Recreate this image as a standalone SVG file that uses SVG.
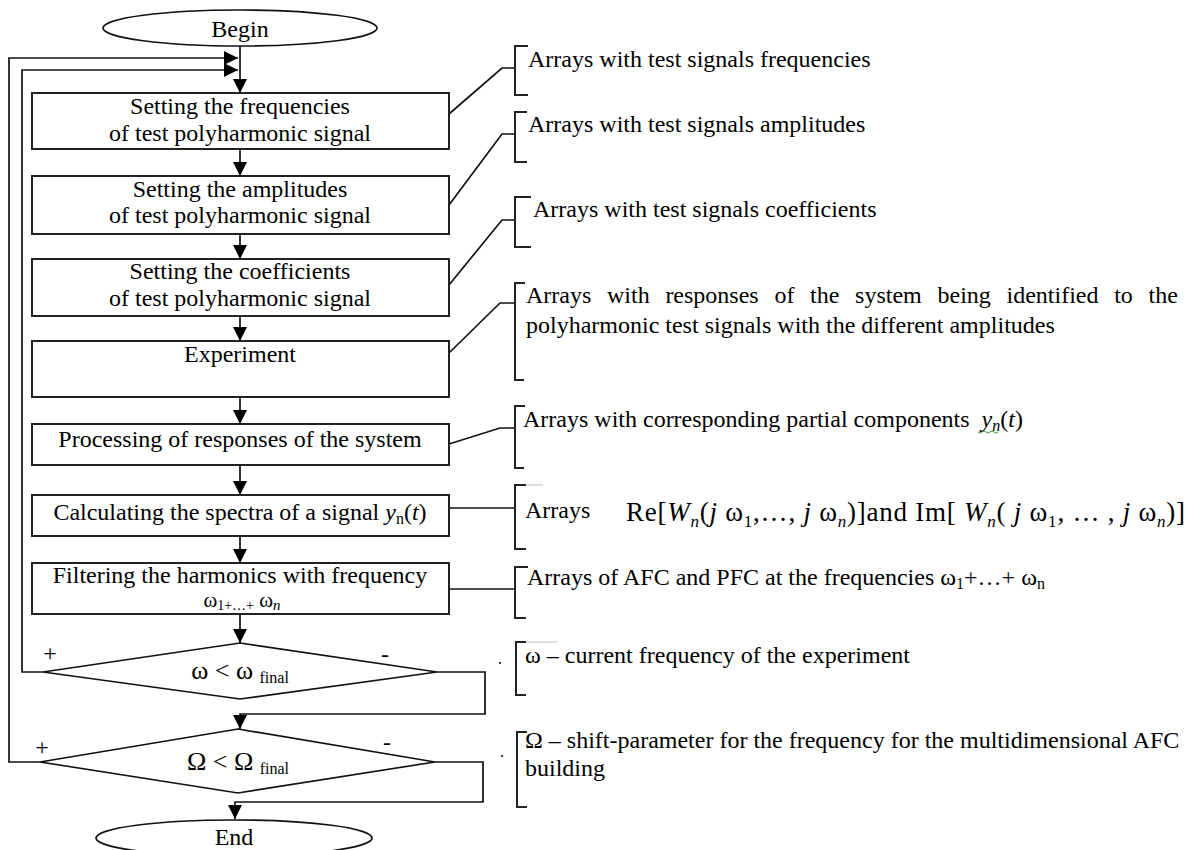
<svg xmlns="http://www.w3.org/2000/svg" width="1196" height="850" viewBox="0 0 1196 850">
<style>
.t{font-family:"Liberation Serif","Times New Roman","DejaVu Serif",serif;font-size:24px;fill:#000}
.c{text-anchor:middle}
.i{font-style:italic}
.box{fill:#fff;stroke:#222;stroke-width:2}
.ln{fill:none;stroke:#111;stroke-width:1.7}
.br{fill:none;stroke:#222;stroke-width:2}
</style>
<defs>
<marker id="ah" viewBox="0 0 10 10" refX="10" refY="5" markerWidth="15" markerHeight="14" markerUnits="userSpaceOnUse" orient="auto">
<path d="M0,0 L10,5 L0,10 z" fill="#000"/>
</marker>
</defs>
<rect width="1196" height="850" fill="#fff"/>

<g id="connectors">
<line class="ln" x1="240" y1="46" x2="240" y2="93" marker-end="url(#ah)"/>
<polyline class="ln" points="40,762 9,762 9,58 238,58" marker-end="url(#ah)"/>
<polyline class="ln" points="43,672 22,672 22,70 238,70" marker-end="url(#ah)"/>
<line class="ln" x1="240" y1="149" x2="240" y2="176" marker-end="url(#ah)"/>
<line class="ln" x1="240" y1="234" x2="240" y2="259" marker-end="url(#ah)"/>
<line class="ln" x1="240" y1="316" x2="240" y2="341" marker-end="url(#ah)"/>
<line class="ln" x1="240" y1="397" x2="240" y2="424" marker-end="url(#ah)"/>
<line class="ln" x1="240" y1="465" x2="240" y2="495" marker-end="url(#ah)"/>
<line class="ln" x1="240" y1="536" x2="240" y2="563" marker-end="url(#ah)"/>
<line class="ln" x1="240" y1="614" x2="240" y2="643" marker-end="url(#ah)"/>
<polyline class="ln" points="437,672 485,672 485,714 240,714 240,729" marker-end="url(#ah)"/>
<polyline class="ln" points="435,762 483,762 483,802 235,802 235,819" marker-end="url(#ah)"/>
<polyline class="ln" points="449,114 502,68 515,68"/>
<polyline class="ln" points="449,205 502,134 515,134"/>
<polyline class="ln" points="449,285 502,220 515,220"/>
<polyline class="ln" points="449,353 500,303 515,303"/>
<polyline class="ln" points="449,444 500,428 515,428"/>
<line class="ln" x1="449" y1="508" x2="515" y2="508"/>
<line class="ln" x1="449" y1="589" x2="515" y2="589"/>
</g>

<g id="begin">
<ellipse cx="240" cy="28" rx="137" ry="18" fill="#fff" stroke="#111" stroke-width="1.7"/>
<text class="t c" x="240" y="37">Begin</text>
</g>

<g id="box-frequencies">
<rect class="box" x="32" y="93" width="417" height="56"/>
<text class="t c" x="240" y="114">Setting the frequencies</text>
<text class="t c" x="240" y="141">of test polyharmonic signal</text>
</g>
<g id="box-amplitudes">
<rect class="box" x="32" y="176" width="417" height="58"/>
<text class="t c" x="240" y="197">Setting the amplitudes</text>
<text class="t c" x="240" y="223">of test polyharmonic signal</text>
</g>
<g id="box-coefficients">
<rect class="box" x="32" y="259" width="417" height="57"/>
<text class="t c" x="240" y="279">Setting the coefficients</text>
<text class="t c" x="240" y="306">of test polyharmonic signal</text>
</g>
<g id="box-experiment">
<rect class="box" x="32" y="341" width="417" height="56"/>
<text class="t c" x="240" y="362">Experiment</text>
</g>
<g id="box-processing">
<rect class="box" x="32" y="424" width="417" height="41"/>
<text class="t c" x="240" y="447">Processing of responses of the system</text>
</g>
<g id="box-calculating">
<rect class="box" x="32" y="495" width="417" height="41"/>
<text class="t c" x="240" y="520">Calculating the spectra of a signal <tspan class="i">y</tspan><tspan font-size="16" dy="4">n</tspan><tspan dy="-4">(</tspan><tspan class="i">t</tspan>)</text>
</g>
<g id="box-filtering">
<rect class="box" x="32" y="563" width="417" height="51"/>
<text class="t c" x="240" y="583">Filtering the harmonics with frequency</text>
<text class="t c" x="242" y="607" style="font-size:21px">ω<tspan font-size="14" dy="3">1+…+</tspan><tspan dy="-3"> ω</tspan><tspan class="i" font-size="15" dy="3">n</tspan></text>
</g>

<g id="decision-omega">
<polygon points="240,643 437,672 240,699 43,672" fill="#fff" stroke="#111" stroke-width="1.7"/>
<text class="t c" x="240" y="679" style="font-size:26px">ω &lt; ω <tspan font-size="16" dy="4">final</tspan></text>
<text class="t" x="50" y="661" style="font-size:24px" fill="#6b1a1a" text-anchor="middle">+</text>
<text class="t" x="385" y="662" style="font-size:24px" text-anchor="middle">-</text>
</g>
<g id="decision-Omega">
<polygon points="238,729 435,762 238,793 40,762" fill="#fff" stroke="#111" stroke-width="1.7"/>
<text class="t c" x="238" y="770" style="font-size:26px">Ω &lt; Ω <tspan font-size="16" dy="4">final</tspan></text>
<text class="t" x="42" y="755" style="font-size:24px" text-anchor="middle">+</text>
<text class="t" x="387" y="750" style="font-size:24px" text-anchor="middle">-</text>
</g>

<g id="end">
<ellipse cx="234" cy="838" rx="138" ry="18" fill="#fff" stroke="#111" stroke-width="1.7"/>
<text class="t c" x="234" y="845">End</text>
</g>

<g id="note-1">
<path class="br" d="M528,46 H515 V95 H528"/>
<text class="t" x="528" y="67">Arrays with test signals frequencies</text>
</g>
<g id="note-2">
<path class="br" d="M527,112 H515 V162 H527"/>
<text class="t" x="528" y="132">Arrays with test signals amplitudes</text>
</g>
<g id="note-3">
<path class="br" d="M531,197 H515 V247 H531"/>
<text class="t" x="533" y="217">Arrays with test signals coefficients</text>
</g>
<g id="note-4">
<path class="br" d="M525,283 H515 V380 H524"/>
<text class="t" x="526" y="303" word-spacing="9.7">Arrays with responses of the system being identified to the</text>
<text class="t" x="526" y="333">polyharmonic test signals with the different amplitudes</text>
</g>
<g id="note-5">
<path class="br" d="M525,406 H515 V468 H524"/>
<text class="t" x="523" y="427">Arrays with corresponding partial components<tspan class="i" dx="12">y</tspan><tspan class="i" font-size="16" dy="4">n</tspan><tspan dy="-4">(</tspan><tspan class="i">t</tspan>)</text>
<path d="M978,432 q2,2 4,0 t4,0 t4,0 t4,0 t4,0" fill="none" stroke="#3a9a3a" stroke-width="1"/>
</g>
<g id="note-6">
<path class="br" d="M526,485 H515 V549 H526"/>
<line x1="526" y1="485" x2="543" y2="485" stroke="#bbb" stroke-width="1"/>
<text class="t" x="525" y="518">Arrays</text>
<text class="t" x="626" y="521" style="font-size:27px" textLength="559" lengthAdjust="spacing">Re[<tspan class="i">W</tspan><tspan class="i" font-size="17" dy="6">n</tspan><tspan dy="-6">(</tspan><tspan class="i">j</tspan> ω<tspan font-size="17" dy="6">1</tspan><tspan dy="-6">,…, </tspan><tspan class="i">j</tspan> ω<tspan class="i" font-size="17" dy="6">n</tspan><tspan dy="-6">)]and  Im[ </tspan><tspan class="i">W</tspan><tspan class="i" font-size="17" dy="6">n</tspan><tspan dy="-6">( </tspan><tspan class="i">j</tspan> ω<tspan font-size="17" dy="6">1</tspan><tspan dy="-6">, … , </tspan><tspan class="i">j</tspan> ω<tspan class="i" font-size="17" dy="6">n</tspan><tspan dy="-6">)]</tspan></text>
</g>
<g id="note-7">
<path class="br" d="M528,567 H515 V618 H526"/>
<text class="t" x="527" y="585">Arrays of AFC and PFC at the frequencies ω<tspan font-size="16" dy="4">1</tspan><tspan dy="-4">+…+ ω</tspan><tspan font-size="16" dy="4">n</tspan></text>
</g>
<g id="note-8">
<circle cx="500" cy="663" r="1" fill="#000"/>
<path class="br" d="M526,642 H516 V695 H526"/>
<line x1="526" y1="642" x2="557" y2="642" stroke="#bbb" stroke-width="1"/>
<text class="t" x="525" y="663">ω – current frequency of the experiment</text>
</g>
<g id="note-9">
<circle cx="502" cy="756" r="1" fill="#000"/>
<path class="br" d="M527,732 H517 V807 H527"/>
<text class="t" x="525" y="748">Ω – shift-parameter for the frequency for the multidimensional AFC</text>
<text class="t" x="525" y="776">building</text>
</g>
</svg>
